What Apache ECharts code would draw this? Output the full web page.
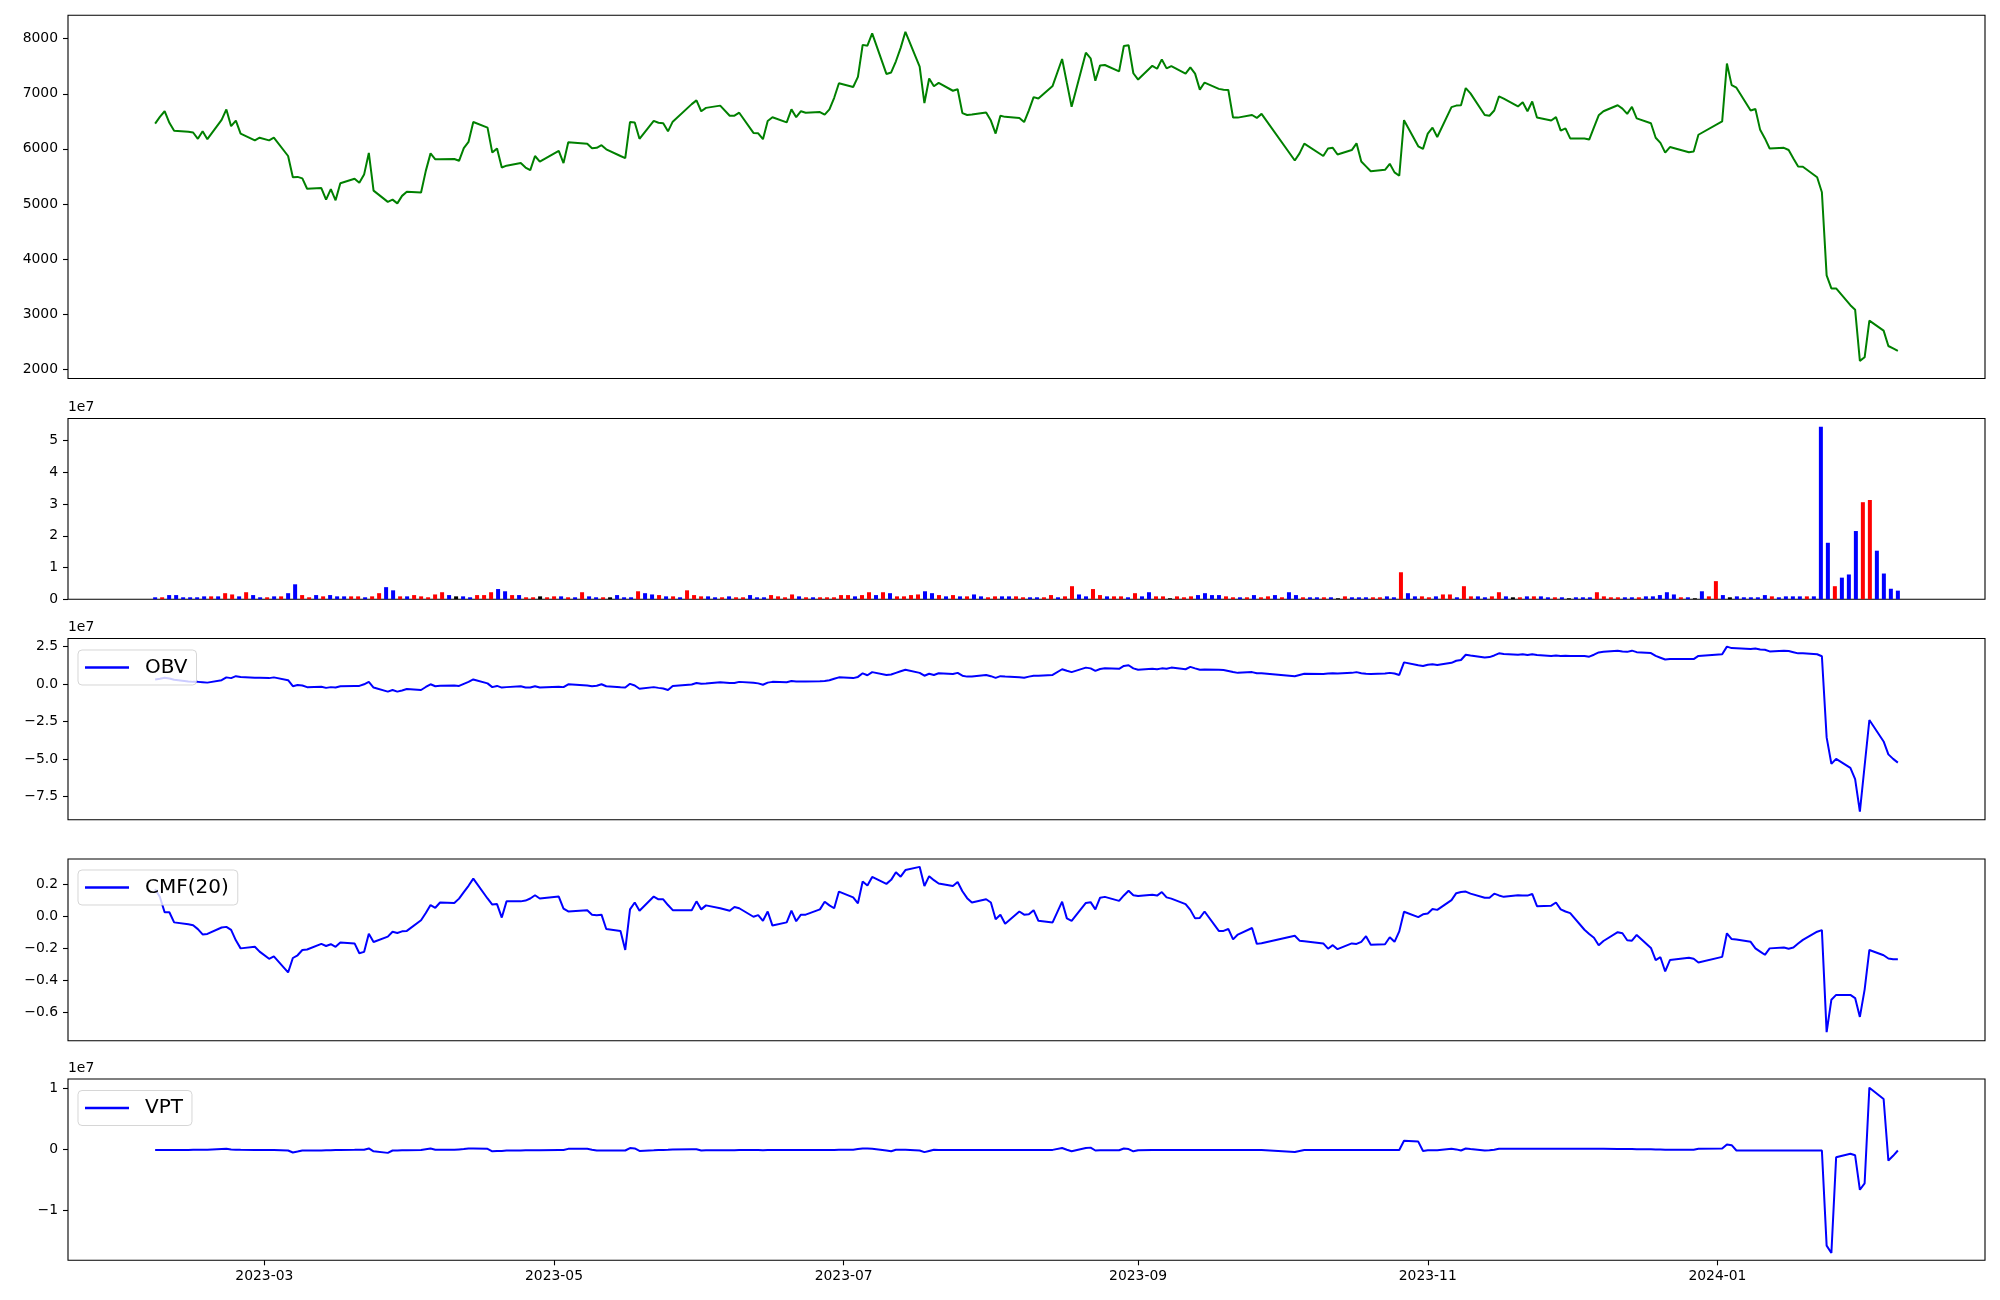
<!DOCTYPE html>
<html>
<head>
<meta charset="utf-8">
<script src="https://cdn.jsdelivr.net/npm/echarts@6/dist/echarts.min.js"></script>
<style>
html,body{margin:0;padding:0;background:#fff;}
#chart{width:2000px;height:1300px;}
</style>
</head>
<body>
<div id="chart"></div>
<script>
// ---- Trading calendar (KRX) ----
const firstDay = '2023-02-06';
const lastDay = '2024-02-08';
const marketHolidays = ['2023-03-01','2023-05-01','2023-05-05','2023-05-29','2023-06-06','2023-08-15',
  '2023-09-28','2023-09-29','2023-10-02','2023-10-03','2023-10-09','2023-12-25','2023-12-29','2024-01-01'];

// ---- Close price ----
const closePrice = [
6459,6581,6683,6473,6330,6311,6297,6182,6318,6175,
6527,6716,6412,6513,6277,6154,6202,6154,6202,5870,
5484,5491,5464,5275,5288,5078,5268,5065,5376,5457,
5383,5532,5925,5241,5037,5078,5010,5146,5220,5207,
5600,5918,5810,5810,5816,5783,6013,6128,6487,6385,
5932,6006,5661,5695,5742,5661,5613,5870,5769,5965,
5742,6121,6093,6012,6019,6066,5992,5870,5830,6487,
6480,6182,6507,6473,6466,6318,6494,6812,6880,6683,
6744,6785,6602,6602,6656,6290,6283,6175,6507,6574,
6480,6717,6574,6683,6656,6669,6622,6717,6927,7191,
7123,7306,7888,7874,8098,7360,7387,7590,7834,8125,
7495,6832,7278,7136,7197,7055,7082,6649,6615,6622,
6662,6513,6277,6602,6581,6560,6487,6700,6940,6913,
7143,7631,7197,6764,7746,7644,7238,7515,7522,7407,
7868,7881,7373,7258,7508,7454,7624,7461,7502,7366,
7481,7366,7075,7204,7089,7075,7068,6567,6567,6615,
6561,6635,5789,5918,6094,5870,6006,6019,5897,5978,
6100,5769,5681,5593,5620,5728,5573,5512,6521,6047,
6000,6277,6385,6216,6758,6785,6792,7103,7007,6615,
6601,6696,6953,6912,6771,6845,6683,6859,6568,6514,
6575,6331,6372,6189,6189,6169,6391,6609,6683,6791,
6730,6636,6764,6554,6466,6202,6108,5932,6033,5938,
5952,6256,6500,7549,7157,7110,6697,6724,6345,6189,
6006,6019,5979,5823,5681,5674,5484,5213,3703,3466,
3466,3161,3080,2150,2215,2880,2700,2420,2375,2330];

// ---- Volume (shares) ----
const volume = [
0.6e6,0.6e6,1.3e6,1.3e6,0.6e6,0.6e6,0.6e6,0.9e6,0.9e6,0.9e6,
1.9e6,1.5e6,0.9e6,2.2e6,1.3e6,0.6e6,0.6e6,0.9e6,0.9e6,1.9e6,
4.7e6,1.3e6,0.6e6,1.3e6,0.9e6,1.3e6,0.9e6,0.9e6,0.9e6,0.9e6,
0.6e6,0.9e6,1.9e6,3.8e6,2.8e6,0.9e6,0.9e6,1.3e6,0.9e6,0.6e6,
1.5e6,2.2e6,1.3e6,0.9e6,0.9e6,0.6e6,1.3e6,1.3e6,2.2e6,3.2e6,
2.5e6,1.3e6,1.3e6,0.6e6,0.6e6,0.9e6,0.6e6,0.9e6,0.9e6,0.6e6,
0.6e6,2.2e6,0.9e6,0.6e6,0.6e6,0.6e6,1.3e6,0.6e6,0.6e6,2.5e6,
1.9e6,1.5e6,1.3e6,0.9e6,0.9e6,0.6e6,2.8e6,1.3e6,0.9e6,0.9e6,
0.6e6,0.6e6,0.9e6,0.6e6,0.6e6,1.3e6,0.6e6,0.6e6,1.3e6,0.9e6,
0.6e6,1.5e6,0.9e6,0.6e6,0.6e6,0.6e6,0.6e6,0.6e6,1.3e6,1.3e6,
0.9e6,1.3e6,2.2e6,1.3e6,2.2e6,1.9e6,0.9e6,0.9e6,1.3e6,1.5e6,
2.5e6,1.9e6,1.3e6,0.9e6,1.3e6,0.9e6,0.9e6,1.5e6,0.9e6,0.6e6,
0.9e6,0.9e6,0.9e6,0.9e6,0.6e6,0.6e6,0.6e6,0.6e6,1.3e6,0.6e6,
0.9e6,4.1e6,1.5e6,0.9e6,3.2e6,1.3e6,0.9e6,0.9e6,0.9e6,0.6e6,
1.9e6,0.9e6,2.2e6,0.9e6,0.9e6,0.3e6,0.9e6,0.6e6,0.9e6,1.3e6,
1.9e6,1.3e6,1.3e6,0.9e6,0.6e6,0.6e6,0.6e6,1.3e6,0.6e6,0.9e6,
1.3e6,0.6e6,2.2e6,1.3e6,0.6e6,0.6e6,0.6e6,0.6e6,0.6e6,0.3e6,
0.9e6,0.6e6,0.6e6,0.6e6,0.6e6,0.6e6,0.9e6,0.6e6,8.5e6,1.9e6,
0.9e6,0.9e6,0.6e6,0.9e6,1.5e6,1.5e6,0.6e6,4.1e6,0.9e6,0.9e6,
0.6e6,0.9e6,2.2e6,0.9e6,0.6e6,0.6e6,0.9e6,0.9e6,0.9e6,0.6e6,
0.6e6,0.6e6,0.3e6,0.6e6,0.6e6,0.6e6,2.2e6,0.9e6,0.6e6,0.6e6,
0.6e6,0.6e6,0.6e6,0.9e6,0.9e6,1.3e6,2.2e6,1.5e6,0.6e6,0.6e6,
0.3e6,2.5e6,0.9e6,5.7e6,1.3e6,0.6e6,0.9e6,0.6e6,0.6e6,0.6e6,
1.3e6,0.9e6,0.6e6,0.9e6,0.9e6,0.9e6,0.9e6,0.9e6,54.4e6,17.8e6,
4.1e6,6.8e6,7.8e6,21.5e6,30.6e6,31.3e6,15.3e6,8.1e6,3.3e6,2.7e6];

// ---- Volume bar direction: 1 up (red), -1 down (blue), 0 unchanged (black) ----
const volumeDirection = [
-1,1,-1,-1,-1,-1,-1,-1,1,-1,
1,1,-1,1,-1,-1,1,-1,1,-1,
-1,1,1,-1,1,-1,-1,-1,1,1,
-1,1,1,-1,-1,1,-1,1,1,1,
1,1,-1,0,-1,-1,1,1,1,-1,
-1,1,-1,1,1,0,1,1,-1,1,
-1,1,-1,-1,1,0,-1,-1,-1,1,
-1,-1,1,-1,1,-1,1,1,1,-1,
-1,1,-1,1,1,-1,-1,-1,1,1,
1,1,-1,1,-1,1,1,1,1,1,
-1,1,1,-1,1,-1,1,1,1,1,
-1,-1,1,-1,1,-1,1,-1,-1,1,
1,-1,-1,1,1,-1,-1,1,1,-1,
1,1,-1,-1,1,1,-1,1,1,-1,
1,-1,-1,1,1,0,1,1,1,-1,
-1,-1,-1,1,1,-1,1,-1,1,1,
-1,1,-1,-1,1,-1,-1,1,-1,0,
1,-1,-1,-1,1,1,-1,-1,1,-1,
-1,1,1,-1,1,1,-1,1,1,-1,
-1,1,1,-1,0,1,-1,1,-1,-1,
1,-1,0,-1,-1,-1,1,1,1,1,
-1,-1,1,-1,-1,-1,-1,-1,1,-1,
0,-1,1,1,-1,0,-1,-1,-1,-1,
-1,1,-1,-1,-1,-1,1,-1,-1,-1,
1,-1,-1,-1,1,1,-1,-1,-1,-1];

// ---- On-Balance Volume ----
const obv = [
0.30e7,0.35e7,0.41e7,0.36e7,0.28e7,0.17e7,0.14e7,0.14e7,0.12e7,0.09e7,
0.25e7,0.44e7,0.39e7,0.52e7,0.47e7,0.41e7,0.41e7,0.39e7,0.44e7,0.25e7,
-0.15e7,-0.07e7,-0.10e7,-0.21e7,-0.18e7,-0.26e7,-0.21e7,-0.24e7,-0.15e7,-0.13e7,
-0.13e7,-0.02e7,0.14e7,-0.24e7,-0.51e7,-0.40e7,-0.51e7,-0.43e7,-0.34e7,-0.40e7,
-0.20e7,-0.02e7,-0.15e7,-0.12e7,-0.10e7,-0.13e7,0.01e7,0.14e7,0.30e7,0.04e7,
-0.21e7,-0.13e7,-0.24e7,-0.21e7,-0.15e7,-0.24e7,-0.24e7,-0.15e7,-0.24e7,-0.18e7,
-0.21e7,-0.02e7,-0.10e7,-0.15e7,-0.12e7,-0.02e7,-0.15e7,-0.22e7,-0.24e7,0.01e7,
-0.10e7,-0.32e7,-0.21e7,-0.26e7,-0.30e7,-0.40e7,-0.13e7,-0.03e7,0.06e7,0.01e7,
0.03e7,0.12e7,0.06e7,0.06e7,0.14e7,0.08e7,0.04e7,-0.05e7,0.09e7,0.14e7,
0.12e7,0.20e7,0.17e7,0.17e7,0.17e7,0.18e7,0.20e7,0.25e7,0.35e7,0.44e7,
0.39e7,0.47e7,0.71e7,0.58e7,0.79e7,0.60e7,0.63e7,0.74e7,0.85e7,0.95e7,
0.74e7,0.55e7,0.68e7,0.60e7,0.71e7,0.66e7,0.74e7,0.55e7,0.49e7,0.50e7,
0.60e7,0.52e7,0.41e7,0.52e7,0.50e7,0.45e7,0.41e7,0.49e7,0.55e7,0.55e7,
0.60e7,0.98e7,0.88e7,0.79e7,1.09e7,1.04e7,0.87e7,1.00e7,1.04e7,1.01e7,
1.20e7,1.25e7,1.04e7,0.95e7,1.01e7,0.98e7,1.04e7,1.01e7,1.09e7,0.98e7,
1.14e7,1.04e7,0.95e7,0.97e7,0.95e7,0.93e7,0.87e7,0.80e7,0.74e7,0.79e7,
0.71e7,0.72e7,0.52e7,0.60e7,0.68e7,0.66e7,0.69e7,0.71e7,0.70e7,0.74e7,
0.79e7,0.72e7,0.68e7,0.66e7,0.70e7,0.74e7,0.70e7,0.60e7,1.44e7,1.25e7,
1.20e7,1.28e7,1.31e7,1.27e7,1.41e7,1.55e7,1.60e7,1.95e7,1.90e7,1.76e7,
1.79e7,1.90e7,2.04e7,2.00e7,1.95e7,1.98e7,1.93e7,1.98e7,1.93e7,1.87e7,
1.90e7,1.87e7,1.88e7,1.87e7,1.86e7,1.82e7,1.95e7,2.10e7,2.14e7,2.22e7,
2.17e7,2.14e7,2.22e7,2.12e7,2.06e7,1.87e7,1.75e7,1.63e7,1.66e7,1.66e7,
1.66e7,1.87e7,1.98e7,2.49e7,2.39e7,2.38e7,2.33e7,2.36e7,2.30e7,2.28e7,
2.17e7,2.22e7,2.20e7,2.12e7,2.04e7,2.04e7,1.98e7,1.85e7,-3.56e7,-5.32e7,
-4.99e7,-5.59e7,-6.34e7,-8.51e7,-5.45e7,-2.40e7,-3.83e7,-4.69e7,-4.99e7,-5.24e7];

// ---- Chaikin Money Flow (20) ----
const cmf20 = [
0.17,0.12,0.025,0.025,-0.038,-0.05,-0.056,-0.08,-0.113,-0.11,
-0.07,-0.066,-0.085,-0.15,-0.20,-0.19,-0.22,-0.265,-0.25,-0.35,
-0.26,-0.243,-0.21,-0.207,-0.172,-0.185,-0.174,-0.19,-0.164,-0.169,
-0.23,-0.222,-0.109,-0.16,-0.127,-0.096,-0.104,-0.094,-0.091,-0.025,
0.02,0.07,0.053,0.086,0.083,0.11,0.15,0.19,0.235,0.111,
0.073,0.076,-0.008,0.093,0.093,0.098,0.111,0.131,0.111,0.123,
0.048,0.030,0.038,0.01,0.007,0.010,-0.079,-0.091,-0.21,0.043,
0.086,0.035,0.123,0.106,0.106,0.07,0.038,0.038,0.093,0.043,
0.068,0.05,0.035,0.058,0.050,-0.003,0.007,-0.028,0.030,-0.058,
-0.038,0.035,-0.031,0.010,0.010,0.043,0.091,0.068,0.05,0.154,
0.118,0.081,0.217,0.192,0.245,0.202,0.227,0.275,0.247,0.288,
0.308,0.189,0.250,0.225,0.204,0.189,0.214,0.156,0.113,0.086,
0.106,0.086,-0.018,0.010,-0.046,0.030,0.010,0.012,0.038,-0.028,
-0.038,0.091,-0.013,-0.028,0.083,0.088,0.043,0.116,0.121,0.096,
0.13,0.159,0.131,0.126,0.134,0.129,0.151,0.118,0.11,0.076,
0.040,-0.013,-0.01,0.030,-0.091,-0.091,-0.079,-0.144,-0.114,-0.073,
-0.172,-0.168,-0.121,-0.152,-0.155,-0.169,-0.202,-0.180,-0.205,-0.169,
-0.172,-0.159,-0.124,-0.177,-0.174,-0.131,-0.159,-0.094,0.028,-0.005,
0.012,0.017,0.045,0.040,0.101,0.144,0.151,0.154,0.141,0.116,
0.116,0.141,0.13,0.121,0.131,0.13,0.129,0.139,0.063,0.066,
0.086,0.043,0.03,0.020,-0.084,-0.11,-0.134,-0.180,-0.154,-0.099,
-0.106,-0.149,-0.152,-0.116,-0.197,-0.273,-0.255,-0.344,-0.273,-0.258,
-0.265,-0.288,-0.253,-0.106,-0.142,-0.145,-0.159,-0.2,-0.22,-0.240,
-0.200,-0.195,-0.202,-0.195,-0.17,-0.147,-0.096,-0.086,-0.722,-0.520,
-0.490,-0.490,-0.510,-0.627,-0.457,-0.210,-0.243,-0.263,-0.268,-0.268];

// ---- Volume Price Trend ----
const vpt = [
-0.005e7,-0.005e7,-0.004e7,-0.004e7,-0.003e7,-0.003e7,-0.002e7,-0.002e7,-0.001e7,0,
0.012e7,0.014e7,0.002e7,0,-0.002e7,-0.004e7,-0.004e7,-0.006e7,-0.004e7,-0.013e7,
-0.046e7,-0.03e7,-0.013e7,-0.012e7,-0.012e7,-0.01e7,-0.008e7,-0.006e7,-0.004e7,-0.002e7,
0,0,0.02e7,-0.026e7,-0.052e7,-0.013e7,-0.012e7,-0.01e7,-0.008e7,-0.006e7,
0.008e7,0.02e7,0,0,0,0.005e7,0.01e7,0.02e7,0.02e7,0.014e7,
-0.026e7,-0.02e7,-0.02e7,-0.015e7,-0.012e7,-0.01e7,-0.01e7,-0.008e7,-0.008e7,-0.006e7,
-0.006e7,0.014e7,0.014e7,0,-0.013e7,-0.012e7,-0.013e7,-0.013e7,-0.013e7,0.027e7,
0.02e7,-0.02e7,-0.01e7,-0.005e7,-0.003e7,0,0.005e7,0.007e7,0.007e7,-0.013e7,
-0.01e7,-0.008e7,-0.008e7,-0.008e7,-0.006e7,-0.006e7,-0.006e7,-0.008e7,-0.006e7,-0.005e7,
-0.005e7,-0.005e7,-0.006e7,-0.006e7,-0.006e7,-0.006e7,-0.005e7,-0.005e7,-0.003e7,0,
0,0.01e7,0.02e7,0.02e7,0.015e7,-0.013e7,-0.026e7,0,0,0,
-0.013e7,-0.04e7,-0.02e7,0,-0.003e7,-0.003e7,-0.004e7,-0.004e7,-0.004e7,-0.004e7,
-0.004e7,-0.004e7,-0.004e7,-0.004e7,-0.004e7,-0.004e7,-0.003e7,-0.003e7,-0.003e7,-0.003e7,
-0.003e7,0.027e7,0,-0.026e7,0.027e7,0.034e7,-0.013e7,-0.008e7,-0.008e7,-0.008e7,
0.02e7,0.01e7,-0.026e7,-0.008e7,-0.006e7,-0.006e7,-0.006e7,-0.006e7,-0.006e7,-0.006e7,
-0.006e7,-0.006e7,-0.006e7,-0.006e7,-0.006e7,-0.006e7,-0.006e7,-0.006e7,-0.006e7,-0.006e7,
-0.006e7,-0.006e7,-0.039e7,-0.02e7,-0.006e7,-0.006e7,-0.006e7,-0.006e7,-0.006e7,-0.006e7,
-0.006e7,-0.006e7,-0.006e7,-0.006e7,-0.006e7,-0.006e7,-0.006e7,-0.006e7,0.147e7,0.133e7,
-0.02e7,-0.01e7,-0.01e7,-0.01e7,0.014e7,0.005e7,-0.013e7,0.02e7,0.01e7,-0.013e7,
-0.01e7,0,0.014e7,0.014e7,0.014e7,0.014e7,0.014e7,0.014e7,0.014e7,0.014e7,
0.014e7,0.014e7,0.014e7,0.014e7,0.014e7,0.014e7,0.014e7,0.014e7,0.014e7,0.012e7,
0.012e7,0.01e7,0.01e7,0.008e7,0.006e7,0.004e7,0.002e7,0,0,0,
0,0.014e7,0.02e7,0.087e7,0.074e7,-0.013e7,-0.013e7,-0.013e7,-0.013e7,-0.013e7,
-0.013e7,-0.013e7,-0.013e7,-0.013e7,-0.013e7,-0.013e7,-0.013e7,-0.013e7,-1.573e7,-1.693e7,
-0.125e7,-0.066e7,-0.092e7,-0.657e7,-0.551e7,1.017e7,0.831e7,-0.178e7,-0.10e7,-0.013e7];

// ---- Tick values ----
const priceTicks = [2000,3000,4000,5000,6000,7000,8000];
const volumeTicks = [0,1e7,2e7,3e7,4e7,5e7];
const obvTicks = [-7.5e7,-5e7,-2.5e7,0,2.5e7];
const cmfTicks = [-0.6,-0.4,-0.2,0,0.2];
const vptTicks = [-1e7,0,1e7];
const dateTicks = ['2023-03-01','2023-05-01','2023-07-01','2023-09-01','2023-11-01','2024-01-01'];

// ---- build trading dates ----
function ymd(t){const d=new Date(t);return d.getUTCFullYear()+'-'+String(d.getUTCMonth()+1).padStart(2,'0')+'-'+String(d.getUTCDate()).padStart(2,'0');}
function parse(s){const p=s.split('-').map(Number);return Date.UTC(p[0],p[1]-1,p[2]);}
const DAY=86400000;
const tradeDates=[];
for(let t=parse(firstDay);t<=parse(lastDay);t+=DAY){
  const wd=new Date(t).getUTCDay();
  if(wd===0||wd===6) continue;
  if(marketHolidays.indexOf(ymd(t))>=0) continue;
  tradeDates.push(t);
}
if(tradeDates.length!==closePrice.length) console.error('date count',tradeDates.length);

const t0=tradeDates[0], t1=tradeDates[tradeDates.length-1];
const span=t1-t0;
const xMin=t0-0.05*span, xMax=t1+0.05*span;
const n=volume.length;
const iMin=-0.05*(n-1), iMax=(n-1)*1.05;

const minus=s=>String(s).replace('-','\u2212');
const FONT='DejaVu Sans';
const L=68, W=1917;
const grids=[
  {left:L,top:15.3,width:W,height:363.2},
  {left:L,top:418.5,width:W,height:180.7},
  {left:L,top:638.5,width:W,height:181.3},
  {left:L,top:859,width:W,height:181.8},
  {left:L,top:1079,width:W,height:181.3}
].map(g=>Object.assign(g,{show:true,borderColor:'#000',borderWidth:1.1,backgroundColor:'rgba(0,0,0,0)',containLabel:false,outerBoundsMode:'none'}));

function yAx(gi,min,max,ticks,fmt){
  return {type:'value',gridIndex:gi,min:min,max:max,position:'left',
    splitLine:{show:false},axisLine:{show:false,onZero:false},
    axisTick:{show:true,length:5,customValues:ticks,lineStyle:{color:'#000',width:1.1}},
    axisLabel:{show:true,customValues:ticks,formatter:fmt,margin:10,color:'#000',fontSize:13.9,fontFamily:FONT}};
}
const dateTickVals=dateTicks.map(parse);
function xTime(gi,showLabels){
  return {type:'value',gridIndex:gi,min:xMin,max:xMax,position:'bottom',
    splitLine:{show:false},axisLine:{show:false,onZero:false},
    axisTick:{show:showLabels,length:5,customValues:dateTickVals,lineStyle:{color:'#000',width:1.1}},
    axisLabel:{show:showLabels,customValues:dateTickVals,margin:9,color:'#000',fontSize:13.9,fontFamily:FONT,
      formatter:v=>ymd(v).slice(0,7)}};
}

const dirColor={'1':'#ff0000','-1':'#0000ff','0':'#000000'};
function legendAt(top,name){
  return {show:true,data:[name],left:78,top:top,orient:'horizontal',icon:'rect',itemWidth:44,itemHeight:2.5,
    padding:[7,9,7,7],backgroundColor:'rgba(255,255,255,0.8)',borderColor:'rgba(204,204,204,0.8)',borderWidth:1,borderRadius:4,
    selectedMode:false,textStyle:{fontFamily:FONT,fontSize:20,color:'#000',lineHeight:21,padding:[0,0,0,11]}};
}
const lineCommon={type:'line',symbol:'none',showSymbol:false,animation:false,lineStyle:{width:2},emphasis:{disabled:true}};

const option={
  animation:false,
  textStyle:{fontFamily:FONT},
  grid:grids,
  legend:[legendAt(650,'OBV'),legendAt(870,'CMF(20)'),legendAt(1090.5,'VPT')],
  xAxis:[
    xTime(0,false),
    {type:'value',gridIndex:1,min:iMin,max:iMax,show:false,position:'bottom',axisLine:{show:false,onZero:false},splitLine:{show:false}},
    xTime(2,false),xTime(3,false),xTime(4,true)
  ],
  yAxis:[
    yAx(0,1830,8425,priceTicks,v=>String(v)),
    yAx(1,0,5.7e7,volumeTicks,v=>(v/1e7).toFixed(0)),
    yAx(2,-9.05e7,3.03e7,obvTicks,v=>minus((v/1e7).toFixed(1))),
    yAx(3,-0.776,0.357,cmfTicks,v=>minus(v.toFixed(1))),
    yAx(4,-1.813e7,1.159e7,vptTicks,v=>minus((v/1e7).toFixed(0)))
  ],
  graphic:[
    {type:'text',left:68,top:400,style:{text:'1e7',font:'13.9px "DejaVu Sans"',fill:'#000'}},
    {type:'text',left:68,top:620.5,style:{text:'1e7',font:'13.9px "DejaVu Sans"',fill:'#000'}},
    {type:'text',left:68,top:1061,style:{text:'1e7',font:'13.9px "DejaVu Sans"',fill:'#000'}}
  ],
  series:[
    Object.assign({},lineCommon,{name:'Close',xAxisIndex:0,yAxisIndex:0,color:'#008000',
      data:tradeDates.map((t,i)=>[t,closePrice[i]])}),
    {type:'bar',name:'Volume',xAxisIndex:1,yAxisIndex:1,barWidth:4,animation:false,
      data:volume.map((v,i)=>({value:[i,v],itemStyle:{color:dirColor[String(volumeDirection[i])]}}))},
    Object.assign({},lineCommon,{name:'OBV',xAxisIndex:2,yAxisIndex:2,color:'#0000ff',
      data:tradeDates.map((t,i)=>[t,obv[i]])}),
    Object.assign({},lineCommon,{name:'CMF(20)',xAxisIndex:3,yAxisIndex:3,color:'#0000ff',
      data:tradeDates.map((t,i)=>[t,cmf20[i]])}),
    Object.assign({},lineCommon,{name:'VPT',xAxisIndex:4,yAxisIndex:4,color:'#0000ff',
      data:tradeDates.map((t,i)=>[t,vpt[i]])})
  ]
};
const chart=echarts.init(document.getElementById('chart'),null,{renderer:'canvas',width:2000,height:1300});
chart.setOption(option);
</script>
</body>
</html>
